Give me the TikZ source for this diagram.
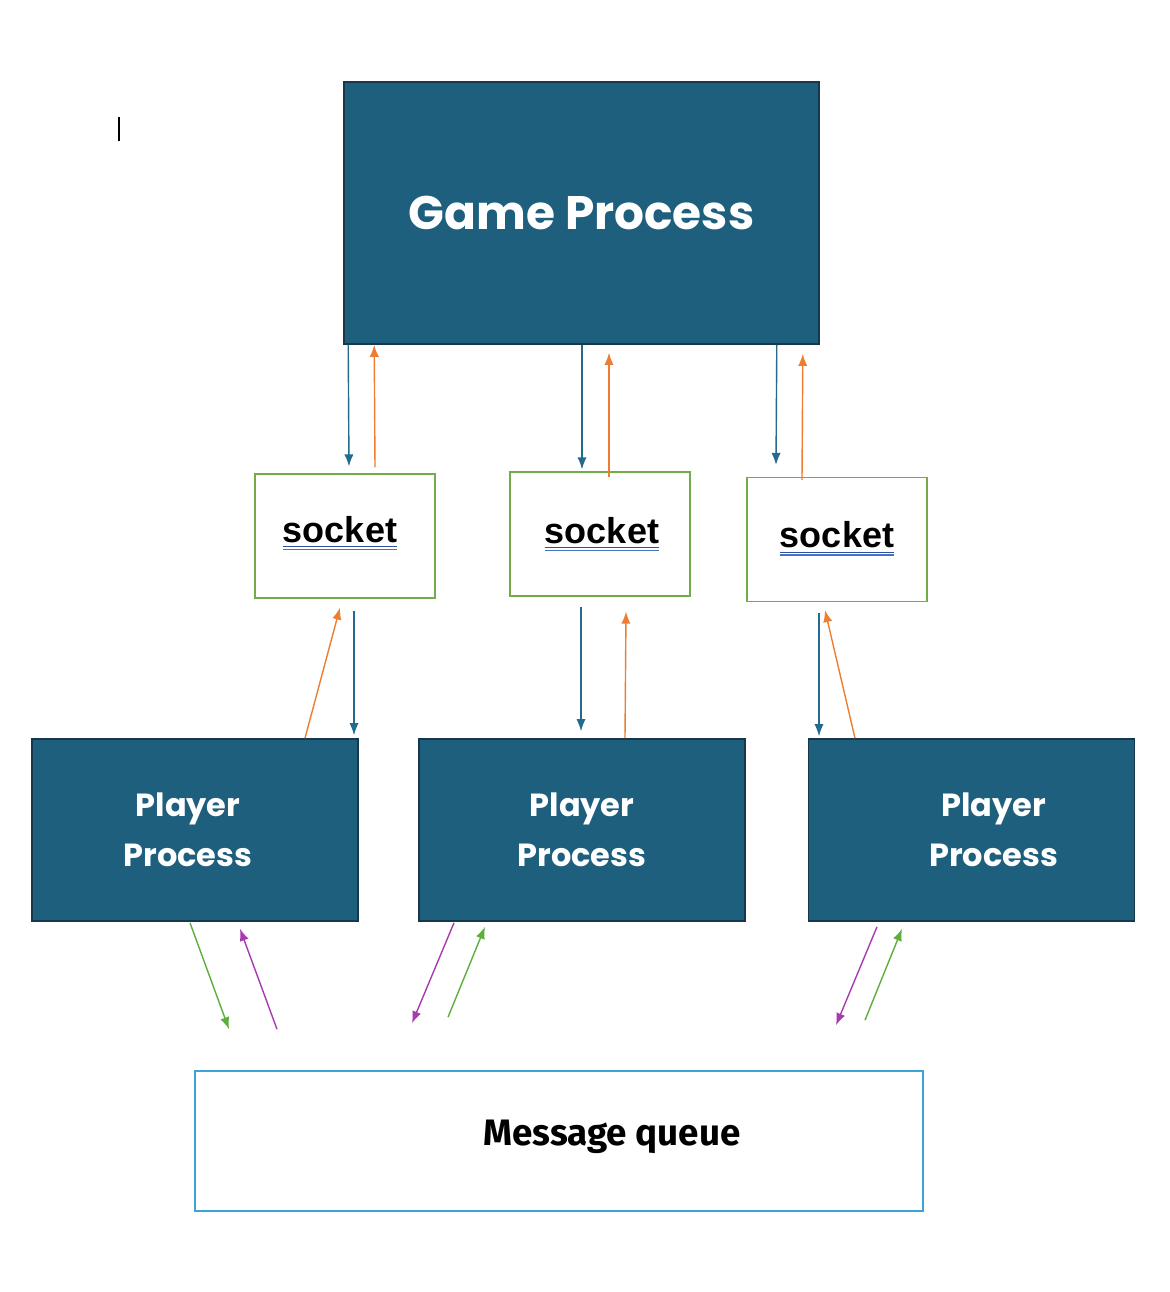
\documentclass[tikz,border=0pt]{standalone}
\usepackage{fontspec}
\setmainfont{Fira Sans}
\newfontfamily\popfont{Poppins}
\newfontfamily\arialfont{Liberation Sans}
\usetikzlibrary{shapes,arrows.meta,calc}
\definecolor{procblue}{HTML}{1F5F7E}
\definecolor{procedge}{HTML}{17384A}
\definecolor{sockgreen}{HTML}{70AD47}
\definecolor{queueblue}{HTML}{3DA5D6}
\definecolor{sendorange}{HTML}{ED7D31}
\definecolor{recvblue}{HTML}{236A8E}
\definecolor{mqgreen}{HTML}{5BAF3A}
\definecolor{mqpurple}{HTML}{A83AB0}
\definecolor{ulblue}{HTML}{4472C4}
\definecolor{uldark}{HTML}{2F4FA0}
\newcommand{\spellline}[1]{\setbox0\hbox{#1}\rlap{\color{uldark}\rule[-2.6pt]{\wd0}{0.6pt}}\rlap{\color{ulblue}\rule[-4pt]{\wd0}{0.6pt}}\box0}
\tikzstyle{game} = [rectangle, draw=procedge, line width=0.8pt, fill=procblue,
    minimum width=237.5pt, minimum height=131pt, text=white,
    font=\popfont\bfseries\fontsize{23.5}{28}\selectfont]
\tikzstyle{player} = [rectangle, draw=procedge, line width=0.8pt, fill=procblue,
    minimum width=163pt, minimum height=91pt]
\tikzstyle{ptext} = [text=white, align=center,
    font=\popfont\bfseries\fontsize{16}{25}\selectfont]
\tikzstyle{sock} = [rectangle, draw=sockgreen, line width=0.6pt,
    minimum width=90pt, minimum height=62pt]
\tikzstyle{stext} = [font=\arialfont\bfseries\fontsize{18}{21}\selectfont]
\tikzstyle{queue} = [rectangle, draw=queueblue, line width=0.8pt,
    minimum width=364pt, minimum height=70pt]
\tikzstyle{qtext} = [font=\bfseries\fontsize{18.4}{22}\selectfont]
\tikzstyle{tip} = [-{Latex[length=6pt, width=4.6pt]}, line width=0.7pt]
\tikzstyle{down} = [draw=recvblue, tip]
\tikzstyle{up} = [draw=sendorange, tip]
\tikzstyle{toq} = [draw=mqgreen, tip]
\tikzstyle{fromq} = [draw=mqpurple, tip]
\begin{document}
\begin{tikzpicture}[x=0.5pt, y=-0.5pt]
\useasboundingbox (0,0) rectangle (1170,1292);
\draw [line width=1pt] (119,117) -- (119,141);
\node [game] (game) at (581.5,213) {Game Process};
\node [sock, label={[stext, xshift=-2.5pt, yshift=1.5pt]center:\spellline{socket}}] (s1) at (345,536) {};
\node [sock, label={[stext, xshift=1pt]center:\spellline{socket}}] (s2) at (600,534) {};
\node [sock, label={[stext, yshift=0.5pt]center:\spellline{socket}}] (s3) at (837,539.5) {};
\node [player, label={[ptext, xshift=-3.5pt]center:Player\\Process}] (p1) at (195,830) {};
\node [player, label={[ptext]center:Player\\Process}] (p2) at (582,830) {};
\node [player, label={[ptext, xshift=11pt]center:Player\\Process}] (p3) at (971.5,830) {};
\node [queue, label={[qtext, xshift=26.5pt, yshift=2pt]center:Message queue}] (mq) at (559,1141) {};
% game <-> sockets
\path [down] ($(game.south west)+(5,0)$) -- ($(s1.north)+(4,-7)$);
\path [up] ($(s1.north)+(30,-6)$) -- ($(game.south west)+(31,0)$);
\path [down] ($(game.south)+(0.5,0)$) -- ($(s2.north)+(-18,-2)$);
\path [up] ($(s2.north)+(9,6)$) -- ($(game.south)+(27.5,8)$);
\path [down] ($(game.south east)+(-43,0)$) -- ($(s3.north)+(-61,-12)$);
\path [up] ($(s3.north)+(-35,3)$) -- ($(game.south east)+(-17,9)$);
% sockets <-> players
\path [up] ($(p1.north)+(110,0)$) -- ($(s1.south)+(-5,9)$);
\path [down] ($(s1.south)+(9,12)$) -- ($(p1.north)+(159,-3)$);
\path [down] ($(s2.south)+(-19,10)$) -- ($(p2.north)+(-1,-7)$);
\path [up] ($(p2.north)+(43,0)$) -- ($(s2.south)+(26,15)$);
\path [down] ($(s3.south)+(-18,11)$) -- ($(p3.north)+(-152.5,-2)$);
\path [up] ($(p3.north)+(-116.5,0)$) -- ($(s3.south)+(-12,8)$);
% players <-> message queue
\path [toq] ($(p1.south)+(-5,1)$) -- ($(mq.north)+(-330,-41)$);
\path [fromq] ($(mq.north)+(-282,-41)$) -- ($(p1.south)+(45,7)$);
\path [fromq] ($(p2.south)+(-128,1)$) -- ($(mq.north)+(-147,-47)$);
\path [toq] ($(mq.north)+(-111,-53)$) -- ($(p2.south)+(-97,5)$);
\path [fromq] ($(p3.south)+(-94.5,5)$) -- ($(mq.north)+(277,-45)$);
\path [toq] ($(mq.north)+(306,-50)$) -- ($(p3.south)+(-69.5,7)$);
\end{tikzpicture}
\end{document}
